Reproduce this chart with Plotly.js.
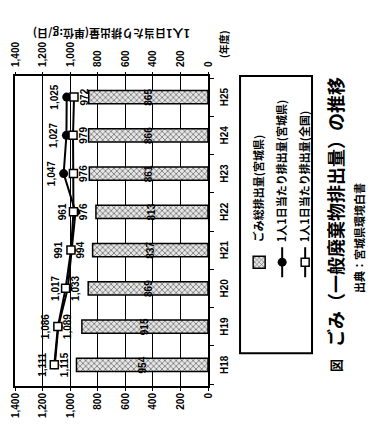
<!DOCTYPE html>
<html>
<head>
<meta charset="utf-8">
<script src="https://cdn.plot.ly/plotly-3.0.1.min.js"></script>
<style>
html,body{margin:0;padding:0;width:382px;height:428px;overflow:hidden;background:#fff;}
#rot{position:absolute;left:0;top:0;width:428px;height:382px;transform-origin:0 0;transform:translate(0px,428px) rotate(-90deg);}
</style>
</head>
<body>
<div id="rot"><div id="chart"></div></div>
<script>
// Data
const years = ["H18","H19","H20","H21","H22","H23","H24","H25"];
const totalMiyagi = [954, 915, 869, 837, 813, 861, 866, 865];          // ごみ総排出量(宮城県)
const perCapitaMiyagi = [1111, 1086, 1017, 991, 961, 1047, 1027, 1025]; // 1人1日当たり排出量(宮城県)
const perCapitaJapan = [1115, 1089, 1033, 994, 976, 976, 979, 972];     // 1人1日当たり排出量(全国)
const yTicks = [0, 200, 400, 600, 800, 1000, 1200, 1400];

const fmt = v => v.toLocaleString('en-US');
const FONT = "Liberation Sans, Arial, Noto Sans CJK JP, sans-serif";
const JFONT = "Noto Sans CJK JP, Liberation Sans, sans-serif";

const traces = [
  {
    type: 'bar', name: 'ごみ総排出量(宮城県)', x: years, y: totalMiyagi, legendgroup: 'a',
    width: 0.35,
    text: totalMiyagi.map(fmt), textposition: 'inside', insidetextanchor: 'middle', textangle: 0,
    textfont: {family: FONT, size: 10, color: '#000', weight: 'bold'},
    marker: {color: '#d8d8d8', line: {color: '#000', width: 1.5},
             pattern: {shape: 'x', fgcolor: '#555', bgcolor: '#e6e6e6', size: 4, solidity: 0.3}},
    yaxis: 'y'
  },
  {
    type: 'scatter', mode: 'lines+markers+text', name: '1人1日当たり排出量(宮城県)', legendgroup: 'b',
    x: years, y: perCapitaMiyagi, yaxis: 'y2',
    text: perCapitaMiyagi.map(fmt), textposition: 'top center',
    textfont: {family: FONT, size: 10, color: '#000', weight: 'bold'},
    line: {color: '#000', width: 2},
    marker: {symbol: 'circle', size: 9, color: '#000'}
  },
  {
    type: 'scatter', mode: 'lines+markers+text', name: '1人1日当たり排出量(全国)', legendgroup: 'c',
    x: years, y: perCapitaJapan, yaxis: 'y2',
    text: perCapitaJapan.map(fmt), textposition: 'bottom center',
    textfont: {family: FONT, size: 10, color: '#000', weight: 'bold'},
    line: {color: '#000', width: 2},
    marker: {symbol: 'square', size: 8, color: '#fff', line: {color: '#000', width: 1.5}}
  }
];

const layout = {
  width: 428, height: 382,
  margin: {l: 42, r: 76, t: 15, b: 174},
  paper_bgcolor: '#fff', plot_bgcolor: '#fff',
  showlegend: true,
  font: {family: FONT, size: 10, color: '#000', weight: 'bold'},
  uniformtext: {mode: 'show', minsize: 10},
  xaxis: {
    type: 'category', showline: true, mirror: true, linecolor: '#000', linewidth: 2,
    ticks: 'outside', tickson: 'boundaries', ticklen: 4, tickcolor: '#000',
    ticklabelstandoff: 6,
    showgrid: false, tickfont: {family: FONT, size: 10, weight: 'bold'}
  },
  yaxis: {
    range: [0, 1400], tickvals: yTicks, tickformat: ',', showgrid: true,
    gridcolor: '#000', gridwidth: 1, zeroline: false,
    showline: true, mirror: true, linecolor: '#000', linewidth: 2,
    ticks: 'outside', ticklen: 3, tickcolor: '#000',
    tickfont: {family: FONT, size: 10, weight: 'bold'}
  },
  yaxis2: {
    overlaying: 'y', side: 'right', range: [0, 1400], tickvals: yTicks, tickformat: ',',
    showgrid: false, zeroline: false, ticks: 'outside', ticklen: 3, tickcolor: '#000',
    ticklabelstandoff: 3,
    tickfont: {family: FONT, size: 10, weight: 'bold'},
    title: {text: '1人1日当たり排出量(単位:g/日)', standoff: 0,
            font: {family: JFONT, size: 11, weight: 'bold', color: '#000'}}
  },
  legend: {
    x: 0.335, y: -0.19, xanchor: 'left', yanchor: 'top', orientation: 'v',
    bgcolor: 'rgba(0,0,0,0)', borderwidth: 0, tracegroupgap: 4,
    font: {family: JFONT, size: 11, weight: 'bold', color: '#000'}
  },
  shapes: [
    {type: 'rect', xref: 'paper', yref: 'paper', x0: 0.106, x1: 1.0, y0: -0.166, y1: -0.539,
     line: {color: '#000', width: 2}, fillcolor: 'rgba(0,0,0,0)'}
  ],
  annotations: [
    {text: '(年度)', xref: 'paper', yref: 'paper', x: 1.05, y: -0.08, xanchor: 'left', yanchor: 'middle',
     showarrow: false, font: {family: JFONT, size: 10, weight: 'bold'}},
    {text: '図', xref: 'paper', yref: 'paper', x: 0.065, y: -0.66, xanchor: 'center', yanchor: 'middle',
     showarrow: false, font: {family: JFONT, size: 13, weight: 'bold'}},
    {text: 'ごみ（一般廃棄物排出量）の推移', xref: 'paper', yref: 'paper', x: 0.56, y: -0.66,
     xanchor: 'center', yanchor: 'middle', showarrow: false,
     font: {family: JFONT, size: 18, weight: 'bold'}},
    {text: '出典：宮城県環境白書', xref: 'paper', yref: 'paper', x: 0.477, y: -0.78,
     xanchor: 'center', yanchor: 'middle', showarrow: false,
     font: {family: JFONT, size: 11, weight: 'bold'}}
  ]
};

Plotly.newPlot('chart', traces, layout, {displayModeBar: false, staticPlot: true});
</script>
</body>
</html>
